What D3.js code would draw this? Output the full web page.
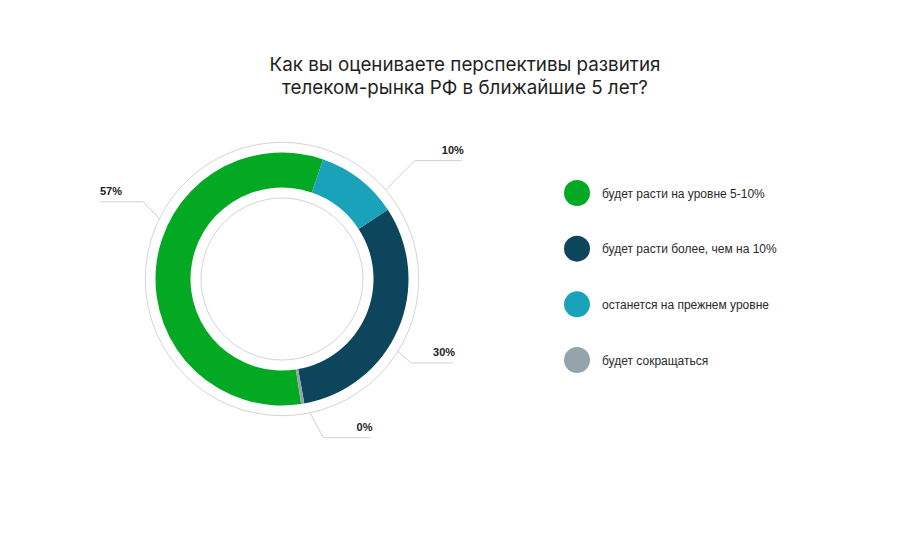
<!DOCTYPE html>
<html>
<head>
<meta charset="utf-8">
<script src="https://cdn.jsdelivr.net/npm/d3@7"></script>
<style>
  html, body { margin: 0; padding: 0; background: #fff; }
  svg { display: block; }
  text { font-family: "Liberation Sans", Arial, sans-serif; }
</style>
</head>
<body>
<svg id="chart" width="902" height="534"></svg>
<script>
// ---- data ----
const titleLines = ["Как вы оцениваете перспективы развития", "телеком-рынка РФ в ближайшие 5 лет?"];
const categories = [
  "будет расти на уровне 5-10%",
  "будет расти более, чем на 10%",
  "останется на прежнем уровне",
  "будет сокращаться"
];
const values = [57.7, 31.4, 10.5, 0.4];          // arc shares
const valueLabels = ["57%", "30%", "10%", "0%"]; // printed labels
const colors = ["#03a923", "#0d455d", "#1aa2bb", "#95a4aa"];
const drawOrder = [2, 1, 3, 0];                   // clockwise order of slices

// ---- layout ----
const W = 902, H = 534;
const cx = 282, cy = 279;
const rOuterRing = 136.7, rOuter = 126.5, rInner = 91.5, rInnerRing = 81;
const startDeg = 19;
const ringNudgeDeg = [21.1, 8.7, 11.4, -2.4];
const elbowNudgeDeg = [23.9, 9.7, 10.4, -5.2];
const elbowR = [159, 154, 178, 164];
const hLen = [43, 42, 47, 47];

const svg = d3.select("#chart");

// title
svg.append("text")
  .attr("x", 465).attr("y", 71)
  .attr("text-anchor", "middle")
  .attr("font-size", 18.8)
  .attr("fill", "#1f1f1f")
  .style("font-family", "Inter, 'Liberation Sans', sans-serif")
  .selectAll("tspan").data(titleLines).join("tspan")
  .attr("x", 465).attr("dy", (d, i) => i === 0 ? 0 : 23)
  .text(d => d);

const g = svg.append("g").attr("transform", `translate(${cx},${cy})`);

// thin rings
[rOuterRing, rInnerRing].forEach(r => {
  g.append("circle").attr("r", r).attr("fill", "none")
    .attr("stroke", "#d4d4d4").attr("stroke-width", 1);
});

const data = values.map((v, i) => ({ i, value: v }));
const pie = d3.pie()
  .value(d => d.value)
  .sort((a, b) => drawOrder.indexOf(a.i) - drawOrder.indexOf(b.i))
  .startAngle(startDeg * Math.PI / 180)
  .endAngle(startDeg * Math.PI / 180 + 2 * Math.PI);
const arcs = pie(data);
const arc = d3.arc().innerRadius(rInner).outerRadius(rOuter);

g.selectAll("path.slice").data(arcs).join("path")
  .attr("class", "slice")
  .attr("d", arc)
  .attr("fill", d => colors[d.data.i]);

// leader lines and labels
const polar = (a, r) => [Math.sin(a) * r, -Math.cos(a) * r];
arcs.forEach(d => {
  const i = d.data.i;
  const mid = (d.startAngle + d.endAngle) / 2;
  const a1 = mid + ringNudgeDeg[i] * Math.PI / 180;
  const a2 = mid + elbowNudgeDeg[i] * Math.PI / 180;
  const p1 = polar(a1, rOuterRing);
  const p2 = polar(a2, elbowR[i]);
  const dir = p2[0] >= 0 ? 1 : -1;
  const p3 = [p2[0] + dir * hLen[i], p2[1]];
  g.append("polyline")
    .attr("points", [p1, p2, p3].map(p => p.join(",")).join(" "))
    .attr("fill", "none").attr("stroke", "#d0d0d0").attr("stroke-width", 1);
  g.append("text")
    .attr("x", dir > 0 ? p3[0] + 2 : p3[0])
    .attr("y", p3[1] - 7)
    .attr("text-anchor", dir > 0 ? "end" : "start")
    .attr("font-size", 11)
    .attr("font-weight", "bold")
    .attr("fill", "#222")
    .text(valueLabels[i]);
});

// legend
const legend = svg.append("g");
const ly = d3.scalePoint().domain(d3.range(categories.length)).range([193, 360]);
const items = legend.selectAll("g").data(categories).join("g")
  .attr("transform", (d, i) => `translate(577,${ly(i)})`);
items.append("circle").attr("r", 13).attr("fill", (d, i) => colors[i]);
items.append("text")
  .attr("x", 25).attr("y", 4.5)
  .attr("font-size", 12)
  .attr("fill", "#2a2a2a")
  .text(d => d);
</script>
</body>
</html>
